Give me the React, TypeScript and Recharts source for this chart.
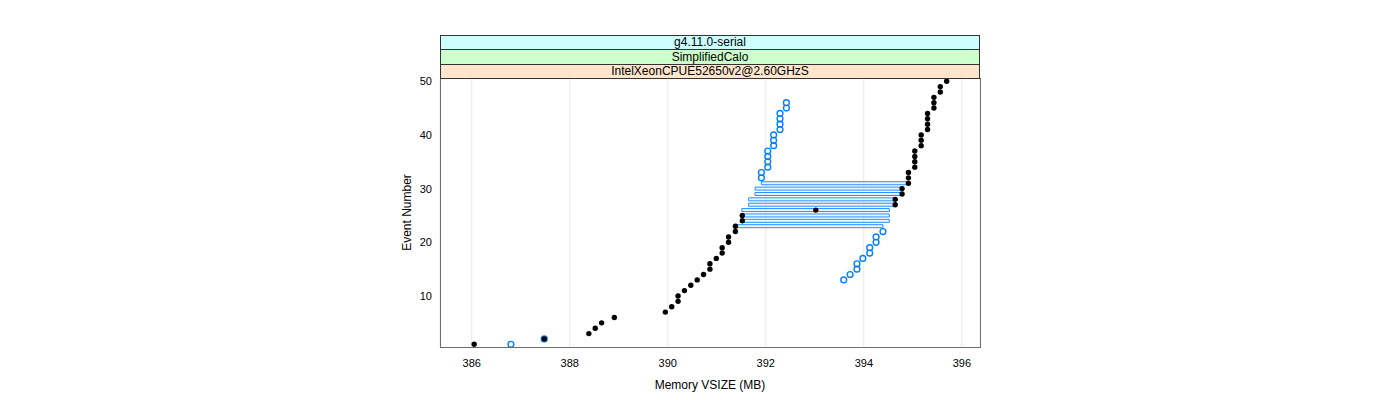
import { CartesianGrid, Label, ReferenceArea, Scatter, ScatterChart, XAxis, YAxis } from 'recharts'

// event number of every run (black points)
const events = [
  1, 2, 3, 4, 5, 6, 7, 8, 9, 10, 11, 12, 13, 14, 15, 16, 17, 18, 19, 20, 21, 22, 23, 24, 25,
  26, 27, 28, 29, 30, 31, 32, 33, 34, 35, 36, 37, 38, 39, 40, 41, 42, 43, 44, 45, 46, 47, 48, 49, 50,
]
const memVsize = [
  386.05, 387.48, 388.39, 388.52, 388.65, 388.91, 389.95, 390.08, 390.21, 390.21,
  390.34, 390.47, 390.6, 390.73, 390.86, 390.86, 390.99, 391.11, 391.11, 391.24,
  391.24, 391.38, 391.38, 391.52, 391.52, 393.02, 394.64, 394.64, 394.78, 394.78,
  394.91, 394.91, 394.91, 395.04, 395.04, 395.04, 395.04, 395.17, 395.17, 395.17,
  395.3, 395.3, 395.3, 395.3, 395.43, 395.43, 395.43, 395.56, 395.56, 395.69,
]

// second series (open blue circles)
const blueEvents = [1, 2, 13, 14, 15, 16, 17, 18, 19, 20, 21, 22, 32, 33, 34, 35, 36, 37, 38, 39, 40, 41, 42, 43, 44, 45, 46]
const blueMem = [
  386.8, 387.48, 393.59, 393.72, 393.86, 393.86, 393.98, 394.12, 394.12, 394.25, 394.25, 394.39,
  391.91, 391.91, 392.04, 392.04, 392.04, 392.04, 392.16, 392.16, 392.16, 392.29, 392.29, 392.29,
  392.29, 392.42, 392.42,
]

// events drawn as a range box
const rangeEvents = [23, 24, 25, 26, 27, 28, 29, 30, 31]
const rangeLow = [391.38, 391.51, 391.51, 391.51, 391.65, 391.65, 391.78, 391.78, 391.91]
const rangeHigh = [394.39, 394.52, 394.52, 394.52, 394.64, 394.64, 394.78, 394.78, 394.91]

const xTicks = [386, 388, 390, 392, 394, 396]
const yTicks = [10, 20, 30, 40, 50]
const stripLabels = ['g4.11.0-serial', 'SimplifiedCalo', 'IntelXeonCPUE52650v2@2.60GHzS']
const stripColors = ['#ccffff', '#ccffcc', '#ffe5cc']

const blackData = events.map((e, i) => ({ mem: memVsize[i], event: e }))
const blueData = blueEvents.map((e, i) => ({ mem: blueMem[i], event: e }))

const FONT = '"Liberation Sans", Arial, Helvetica, sans-serif'

const TopTick = (props: any) => (
  <line x1={props.x} x2={props.x} y1={29} y2={34} stroke="#333" strokeWidth={1} />
)

const stripTops = [35, 49, 64]
const stripHeights = [15, 16, 15]

function Strips() {
  return (
    <>
      {stripLabels.map((s, i) => (
        <div
          key={s}
          style={{
            position: 'absolute',
            left: 440,
            top: stripTops[i],
            width: 540,
            height: stripHeights[i],
            boxSizing: 'border-box',
            border: '1px solid #333',
            background: stripColors[i],
            fontSize: 12,
            lineHeight: `${stripHeights[i] - 2}px`,
            textAlign: 'center',
            color: '#000',
          }}
        >
          {s}
        </div>
      ))}
    </>
  )
}

export default function App() {
  return (
    <div style={{ position: 'absolute', left: 0, top: 0, width: 1400, height: 400, fontFamily: FONT, background: '#fff' }}>
      <ScatterChart width={1400} height={400} margin={{ top: 78, right: 420, bottom: 0, left: 380 }}>
        <CartesianGrid horizontal={false} stroke="#e8e8e8" />
        <XAxis
          xAxisId="top"
          orientation="top"
          type="number"
          dataKey="mem"
          domain={[385.353, 396.37]}
          allowDataOverflow
          ticks={xTicks}
          height={0}
          axisLine={false}
          tickLine={false}
          tick={<TopTick />}
        />
        <XAxis
          type="number"
          dataKey="mem"
          domain={[385.353, 396.37]}
          allowDataOverflow
          ticks={xTicks}
          height={53}
          axisLine={false}
          tickLine={false}
          tickMargin={6}
          tick={{ fontSize: 11, fill: '#000' }}
        >
          <Label value="Memory VSIZE (MB)" position="insideBottom" offset={11} style={{ fontSize: 12, fill: '#000' }} />
        </XAxis>
        <YAxis
          type="number"
          dataKey="event"
          domain={[0.5, 50.6]}
          allowDataOverflow
          ticks={yTicks}
          width={60}
          axisLine={false}
          tickLine={false}
          tick={{ fontSize: 11, fill: '#000' }}
        >
          <Label
            content={() => (
              <text x={407} y={212.5} transform="rotate(-90 407 212.5)" textAnchor="middle" dominantBaseline="central" fontSize={12} fill="#000">
                Event Number
              </text>
            )}
          />
        </YAxis>
        {rangeEvents.map((e, i) => (
          <ReferenceArea
            key={e}
            x1={rangeLow[i]}
            x2={rangeHigh[i]}
            y1={e - 0.28}
            y2={e + 0.28}
            fill="#dbeeff"
            fillOpacity={0.6}
            stroke="#2b8cff"
            strokeWidth={1}
            strokeOpacity={1}
          />
        ))}
        <Scatter
          data={blueData}
          isAnimationActive={false}
          shape={(p: any) => <circle cx={p.cx} cy={p.cy} r={2.9} fill="none" stroke="#0080ff" strokeWidth={1.4} />}
        />
        <Scatter
          data={blackData}
          isAnimationActive={false}
          shape={(p: any) => <circle cx={p.cx} cy={p.cy} r={2.7} fill="#000" />}
        />
      </ScatterChart>
      <div
        style={{
          position: 'absolute',
          left: 440,
          top: 78,
          width: 541,
          height: 270,
          boxSizing: 'border-box',
          border: '1px solid #6e6e6e',
          pointerEvents: 'none',
        }}
      />
      <Strips />
    </div>
  )
}
